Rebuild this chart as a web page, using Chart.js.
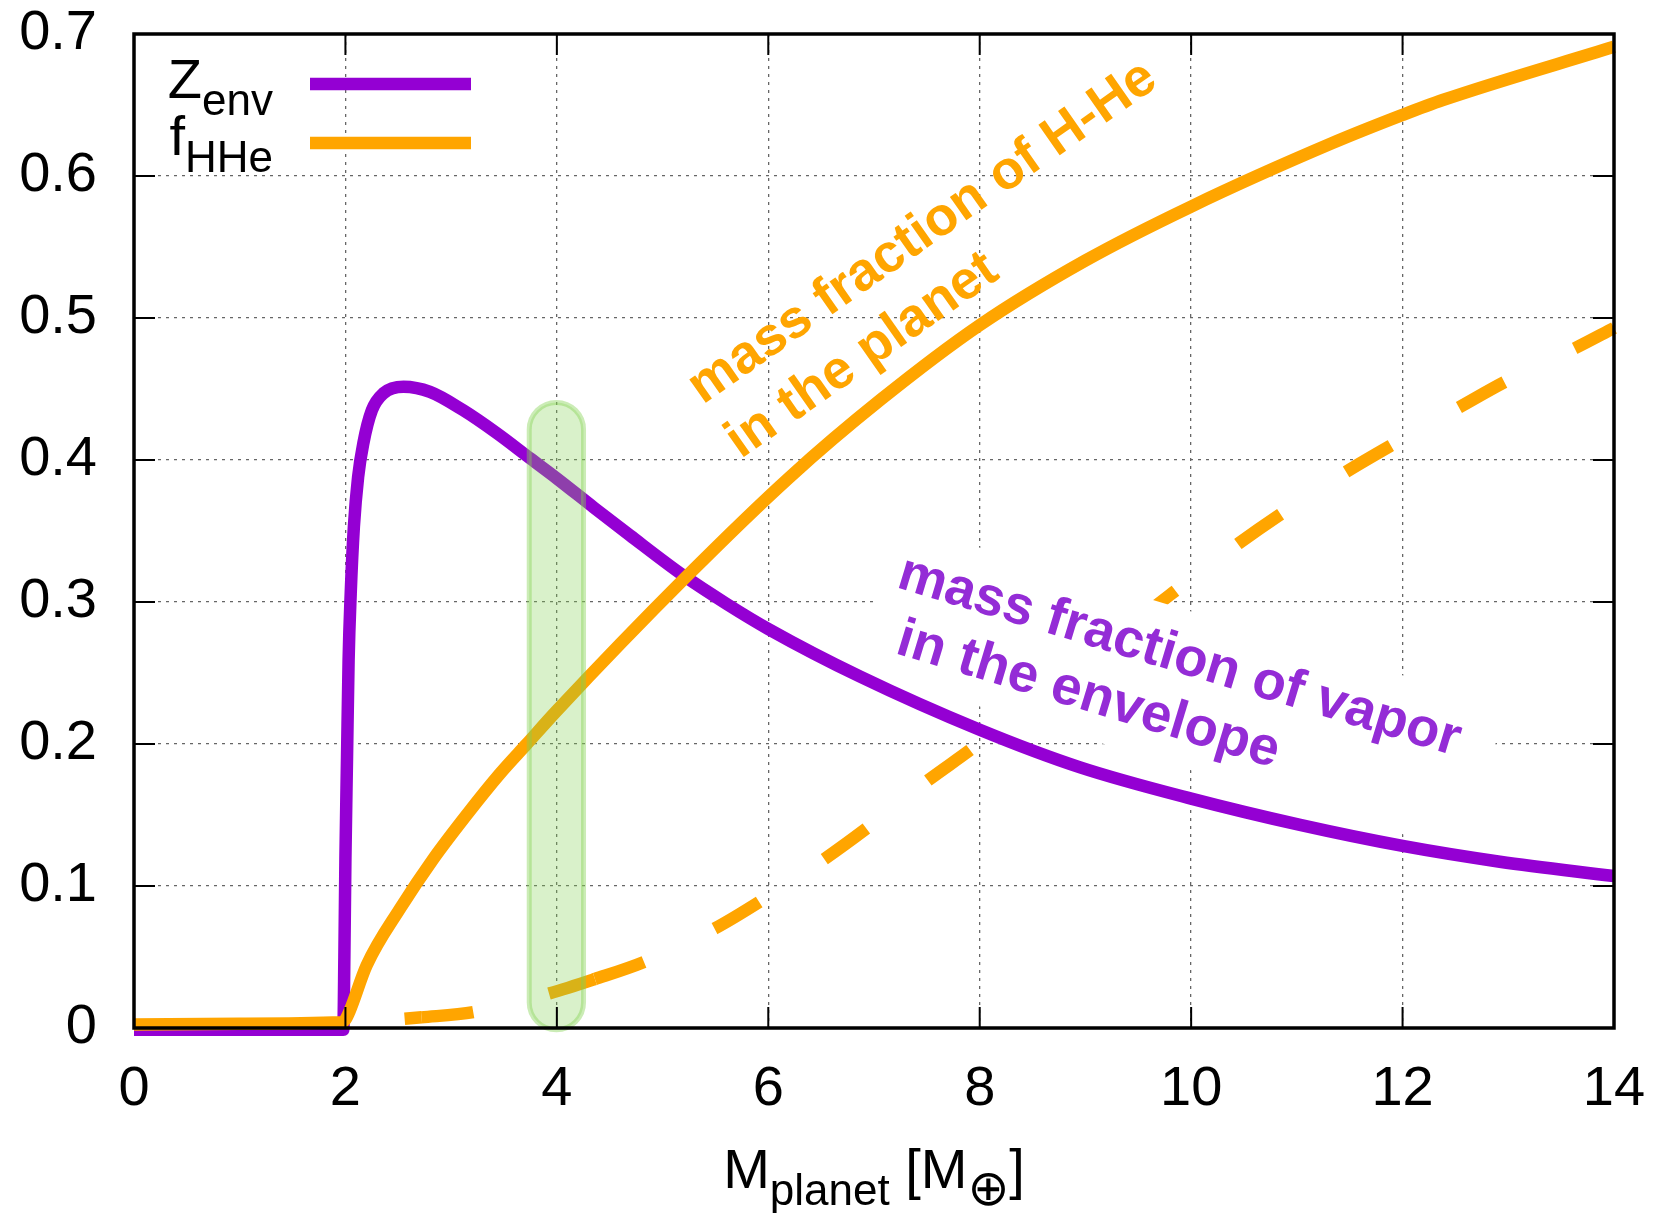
<!DOCTYPE html>
<html><head><meta charset="utf-8">
<script src="https://cdn.jsdelivr.net/npm/chart.js@4/dist/chart.umd.min.js"></script>
<style>html,body{margin:0;padding:0;background:#fff;}#wrap{width:1660px;height:1213px;}</style>
</head><body><div id="wrap"><canvas id="c" width="1660" height="1213"></canvas></div>
<script>
// ---------------- data ----------------
const zenvX = [0, 1.0, 1.98, 1.99, 2.0, 2.015, 2.03, 2.05, 2.08, 2.12, 2.17, 2.25, 2.36, 2.55, 2.8, 3.115, 3.43, 3.75, 4.0, 4.35, 4.69, 5.2, 5.607, 6.0, 6.87, 8.0, 8.95, 10.0, 11.03, 12.0, 12.92, 14.0];
const zenvY = [-0.0012, -0.0012, -0.0012, 0.05, 0.12, 0.19, 0.259, 0.306, 0.353, 0.388, 0.412, 0.435, 0.447, 0.4516, 0.448, 0.435, 0.419, 0.401, 0.387, 0.3665, 0.347, 0.3185, 0.2986, 0.281, 0.2474, 0.21, 0.1835, 0.1615, 0.143, 0.1282, 0.1171, 0.107];

const fhheX = [0, 1.0, 1.96, 2.0, 2.04, 2.2, 2.52, 2.83, 3.15, 3.46, 3.715, 4.0, 5.22, 6.206, 7.06, 8.0, 9.0, 10.0, 11.33, 12.0, 12.38, 14.0];
const fhheY = [0.0025, 0.003, 0.004, 0.006, 0.012, 0.044, 0.0845, 0.119, 0.1505, 0.179, 0.2, 0.2235, 0.3175, 0.3882, 0.4423, 0.495, 0.5405, 0.5785, 0.623, 0.643, 0.6535, 0.691];

const fhheDashX = [2.56, 2.72, 3.21, 3.935, 4.36, 4.83, 5.497, 5.92, 6.54, 6.93, 7.515, 7.91, 9.8, 10.45, 10.86, 11.47, 11.9, 12.545, 12.97, 13.63, 14.0];
const fhheDashY = [0.0065, 0.0075, 0.0112, 0.0245, 0.0345, 0.0467, 0.0702, 0.089, 0.1195, 0.1406, 0.1746, 0.1958, 0.305, 0.3413, 0.3625, 0.3918, 0.4106, 0.4375, 0.4551, 0.4787, 0.493];
// data indices where the dash pattern of the dashed curve restarts
const dashRestartIdx = [1, 4];

const xTickValues = [0, 2, 4, 6, 8, 10, 12, 14];
const xTickLabels = ['0', '2', '4', '6', '8', '10', '12', '14'];
const yTickValues = [0, 0.1, 0.2, 0.3, 0.4, 0.5, 0.6, 0.7];
const yTickLabels = ['0', '0.1', '0.2', '0.3', '0.4', '0.5', '0.6', '0.7'];

const legendMain = ['Z', 'f'];
const legendSub = ['env', 'HHe'];
const orangeNote = ['mass fraction of H-He', 'in the planet'];
const purpleNote = ['mass fraction of vapor', 'in the envelope'];
const xTitleParts = ['M', 'planet', ' [M', '\u2295', ']'];

// ---------------- styles ----------------
const FONT = '"Liberation Sans", Arial, Helvetica, sans-serif';
const PURPLE = '#9400D3';
const ORANGE = '#FFA500';
const PURPLE_TEXT = 'rgb(148,44,214)';

const pts = (xs, ys) => xs.map((x, i) => ({x: x, y: ys[i]}));

const gp = {
  id: 'gp',
  afterDatasetDraw(chart, args, o) {
    if (args.index !== 2) return;
    const {ctx, scales: {x, y}} = chart;
    const a = o.purple;
    ctx.save();
    ctx.translate(x.getPixelForValue(a.anchors[0][0]), y.getPixelForValue(a.anchors[0][1]));
    ctx.rotate(a.angle * Math.PI / 180);
    ctx.fillStyle = '#ffffff';
    ctx.fillRect(a.box[0], a.box[1], a.box[2] - a.box[0], a.box[3] - a.box[1]);
    ctx.restore();
  },
  afterDatasetsDraw(chart, args, o) {
    const {ctx, chartArea: ca, scales: {x, y}} = chart;
    // green highlight
    const h = o.highlight;
    const hx0 = x.getPixelForValue(h.x0), hx1 = x.getPixelForValue(h.x1);
    const hy0 = y.getPixelForValue(h.y1), hy1 = y.getPixelForValue(h.y0);
    const r = (hx1 - hx0) / 2;
    ctx.save();
    ctx.beginPath();
    ctx.roundRect(hx0 + 2.5, hy0 + 2.5, hx1 - hx0 - 5, hy1 - hy0 - 5, r - 2.5);
    ctx.fillStyle = 'rgba(130,210,80,0.30)';
    ctx.fill();
    ctx.lineWidth = 5;
    ctx.strokeStyle = 'rgba(130,210,80,0.42)';
    ctx.stroke();
    ctx.restore();

    // rotated notes
    const drawNote = (n, lines, font, color) => {
      lines.forEach((t, i) => {
        ctx.save();
        ctx.translate(x.getPixelForValue(n.anchors[i][0]), y.getPixelForValue(n.anchors[i][1]));
        ctx.rotate(n.angle * Math.PI / 180);
        ctx.font = font;
        ctx.fillStyle = color;
        ctx.textAlign = 'left';
        ctx.textBaseline = 'alphabetic';
        ctx.fillText(t, 0, 0);
        ctx.restore();
      });
    };
    drawNote(o.orange, orangeNote, 'bold 54px ' + FONT, ORANGE);
    drawNote(o.purple, purpleNote, 'bold 54.5px ' + FONT, PURPLE_TEXT);

    // legend
    const L = o.legend;
    const colors = [PURPLE, ORANGE];
    for (let i = 0; i < legendMain.length; i++) {
      const by = ca.top + L.baseline[i];
      ctx.save();
      ctx.fillStyle = '#000';
      ctx.textBaseline = 'alphabetic';
      ctx.font = '56px ' + FONT;
      const wm = ctx.measureText(legendMain[i]).width;
      ctx.font = '44px ' + FONT;
      const ws = ctx.measureText(legendSub[i]).width;
      const sx = ca.left + L.textRight - wm - ws;
      ctx.font = '56px ' + FONT;
      ctx.fillText(legendMain[i], sx, by);
      ctx.font = '44px ' + FONT;
      ctx.fillText(legendSub[i], sx + wm, by + 17);
      ctx.beginPath();
      ctx.moveTo(ca.left + L.lineX0, ca.top + L.lineY[i]);
      ctx.lineTo(ca.left + L.lineX1, ca.top + L.lineY[i]);
      ctx.lineWidth = 12.5;
      ctx.strokeStyle = colors[i];
      ctx.stroke();
      ctx.restore();
    }

    // x title with subscripts
    ctx.save();
    ctx.fillStyle = '#000';
    ctx.textBaseline = 'alphabetic';
    const fonts = ['56px ' + FONT, '44px ' + FONT, '56px ' + FONT, '50px "DejaVu Sans", ' + FONT, '56px ' + FONT];
    const dys = [0, 17, 0, 17, 0];
    let total = 0;
    const ws = xTitleParts.map((t, i) => { ctx.font = fonts[i]; const w = ctx.measureText(t).width; total += w; return w; });
    let cx = (ca.left + ca.right) / 2 - total / 2;
    const by = ca.bottom + 160;
    xTitleParts.forEach((t, i) => { ctx.font = fonts[i]; ctx.fillText(t, cx, by + dys[i]); cx += ws[i]; });
    ctx.restore();

    // border and inward ticks
    ctx.save();
    ctx.strokeStyle = '#000';
    ctx.lineWidth = 2;
    ctx.beginPath();
    xTickValues.forEach(v => {
      const px = x.getPixelForValue(v);
      ctx.moveTo(px, ca.bottom); ctx.lineTo(px, ca.bottom - 21);
      ctx.moveTo(px, ca.top); ctx.lineTo(px, ca.top + 21);
    });
    yTickValues.forEach(v => {
      const py = y.getPixelForValue(v);
      ctx.moveTo(ca.left, py); ctx.lineTo(ca.left + 21, py);
      ctx.moveTo(ca.right, py); ctx.lineTo(ca.right - 21, py);
    });
    ctx.stroke();
    ctx.lineWidth = 3.5;
    ctx.strokeRect(ca.left, ca.top, ca.right - ca.left, ca.bottom - ca.top);
    ctx.restore();
  }
};

const lineDefaults = {pointRadius: 0, borderWidth: 12.5, cubicInterpolationMode: 'monotone', borderJoinStyle: 'round', borderCapStyle: 'butt', clip: 20, fill: false};

new Chart(document.getElementById('c'), {
  type: 'line',
  data: {
    datasets: [
      Object.assign({label: 'f_HHe', data: pts(fhheX, fhheY), borderColor: ORANGE}, lineDefaults),
      Object.assign({label: 'Z_env', data: pts(zenvX, zenvY), borderColor: PURPLE}, lineDefaults),
      Object.assign({label: 'f_HHe (dashed)', data: pts(fhheDashX, fhheDashY), borderColor: ORANGE, borderDash: [52, 78], borderDashOffset: 0,
        segment: {borderDashOffset: c => 130 * dashRestartIdx.filter(k => c.p0DataIndex >= k).length}}, lineDefaults)
    ]
  },
  options: {
    responsive: false, animation: false, devicePixelRatio: 1,
    layout: {padding: {left: 0, right: 46, top: 34, bottom: 0}},
    plugins: {
      legend: {display: false}, tooltip: {enabled: false},
      gp: {
        highlight: {x0: 3.715, x1: 4.276, y0: -0.003, y1: 0.4423},
        orange: {angle: -35, anchors: [[5.38, 0.4387], [5.74, 0.4005]]},
        purple: {angle: 16.8, anchors: [[7.2, 0.3106], [7.19, 0.2641]], box: [-15, -62, 620, 90]},
        legend: {textRight: 139, baseline: [64, 121], lineX0: 176, lineX1: 337, lineY: [50, 109]}
      }
    },
    scales: {
      x: {
        type: 'linear', min: 0, max: 14,
        afterFit: s => { s.height = 185; },
        afterBuildTicks: s => { s.ticks = xTickValues.map(v => ({value: v})); },
        ticks: {padding: 0, color: '#000', font: {family: FONT, size: 56}, maxRotation: 0, autoSkip: false,
          callback: (v) => xTickLabels[xTickValues.indexOf(v)]},
        grid: {color: '#666', lineWidth: 1.3, drawTicks: true, tickLength: 28, tickColor: 'rgba(0,0,0,0)'},
        border: {display: false, dash: [3, 5]}
      },
      y: {
        type: 'linear', min: 0, max: 0.7,
        afterFit: s => { s.width = 134; },
        afterBuildTicks: s => { s.ticks = yTickValues.map(v => ({value: v})); },
        ticks: {padding: 0, color: '#000', font: {family: FONT, size: 56}, autoSkip: false,
          callback: (v) => { const i = yTickValues.findIndex(t => Math.abs(t - v) < 1e-9); return yTickLabels[i]; }},
        grid: {color: '#666', lineWidth: 1.3, drawTicks: true, tickLength: 37, tickColor: 'rgba(0,0,0,0)'},
        border: {display: false, dash: [3, 5]}
      }
    }
  },
  plugins: [gp]
});
</script></body></html>
